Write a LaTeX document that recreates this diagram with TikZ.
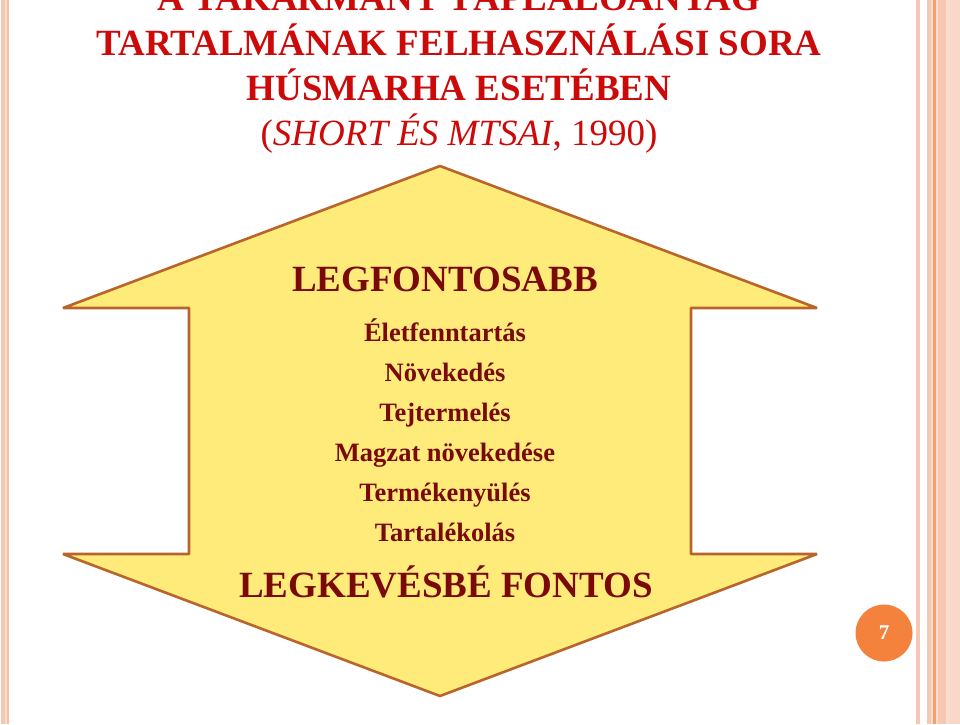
\documentclass[tikz,border=0pt]{standalone}
\usepackage{fontspec}
\setmainfont{Liberation Serif}
\definecolor{titlered}{HTML}{CC0A0A}
\definecolor{maroon}{HTML}{7A0A0A}
\definecolor{arrowfill}{HTML}{FFEB7A}
\definecolor{arrowline}{HTML}{B8642A}
\definecolor{stripe}{HTML}{F6C8B4}
\definecolor{stripelight}{HTML}{FADCCD}
\definecolor{stripedark}{HTML}{F2A06E}
\definecolor{badge}{HTML}{F5823C}
\tikzset{
  titletext/.style={anchor=base, text=titlered, font=\fontsize{37}{40}\selectfont\bfseries, inner sep=0pt},
  bigtext/.style={anchor=base, text=maroon, font=\fontsize{37}{40}\selectfont\bfseries, inner sep=0pt},
  itemtext/.style={anchor=base, text=maroon, font=\fontsize{26.5}{30}\selectfont\bfseries, inner sep=0pt},
  arrowshape/.style={fill=arrowfill, draw=arrowline, line width=2.6pt, line join=bevel},
}
\begin{document}
\begin{tikzpicture}[x=1pt,y=-1pt]
\useasboundingbox (0,0) rectangle (960,724);
\clip (0,0) rectangle (960,724);
\fill[white] (0,0) rectangle (960,724);
% left stripes
\fill[stripe] (1,0) rectangle (5,724);
\fill[stripelight] (5,0) rectangle (7,724);
\fill[stripe!80!stripedark] (7,0) rectangle (8.5,724);
% right stripes
\fill[stripe] (916,0) rectangle (920,724);
\fill[stripelight] (927,0) rectangle (960,724);
\fill[stripe] (927,0) rectangle (931,724);
\fill[stripedark] (933,0) rectangle (935.5,724);
\fill[stripe] (938,0) rectangle (946,724);
\fill[stripe!70!white] (950,0) rectangle (960,724);
% title
\node[titletext] (t1) at (459,10) {A TAKARMÁNY TÁPLÁLÓANYAG};
\node[titletext] (t2) at (459,55) {TARTALMÁNAK FELHASZNÁLÁSI SORA};
\node[titletext] (t3) at (459,100) {HÚSMARHA ESETÉBEN};
\node[titletext, font=\fontsize{37}{40}\selectfont] (t4) at (459,145) {(\textit{SHORT ÉS MTSAI}, 1990)};
% double arrow
\draw[arrowshape] (440,166) -- (817,308) -- (691,308) -- (691,554) -- (817,554)
  -- (440,696) -- (63,554) -- (189,554) -- (189,308) -- (63,308) -- cycle;
% texts
\node[bigtext] (top) at (445,291) {LEGFONTOSABB};
\node[itemtext] (i1) at (445,341) {Életfenntartás};
\node[itemtext] (i2) at (445,381) {Növekedés};
\node[itemtext] (i3) at (445,421) {Tejtermelés};
\node[itemtext] (i4) at (445,461) {Magzat növekedése};
\node[itemtext] (i5) at (445,501) {Termékenyülés};
\node[itemtext] (i6) at (445,541) {Tartalékolás};
\node[bigtext] (bottom) at (446,597) {LEGKEVÉSBÉ FONTOS};
% page number badge
\node[circle, fill=badge, minimum size=57pt, inner sep=0pt, text=white,
  font=\fontsize{21}{22}\selectfont\bfseries] (pg) at (884,633) {7};
\end{tikzpicture}
\end{document}
